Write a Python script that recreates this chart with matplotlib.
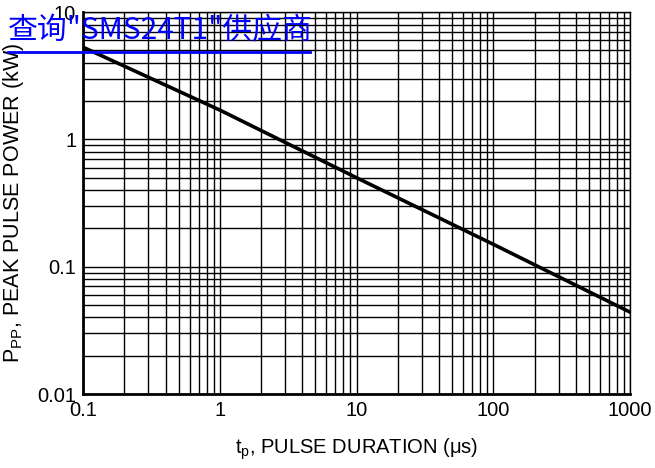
import matplotlib
matplotlib.use("Agg")
from matplotlib import pyplot as plt
from matplotlib.lines import Line2D
from matplotlib.ticker import FixedLocator, FixedFormatter, LogLocator, NullFormatter

plt.rcParams['font.family'] = ['Liberation Sans', 'Noto Sans CJK SC', 'DejaVu Sans']
plt.rcParams['mathtext.default'] = 'regular'

# pulse duration (us) vs peak pulse power (kW)
tp = [0.1, 1, 10, 100, 1000]
ppp = [5.3, 1.7, 0.5, 0.15, 0.044]

xticks = [0.1, 1, 10, 100, 1000]
xlabels = ['0.1', '1', '10', '100', '1000']
yticks = [0.01, 0.1, 1, 10]
ylabels = ['0.01', '0.1', '1', '10']

fig = plt.figure(figsize=(6.55, 4.68), dpi=100)
ax = fig.add_axes([0.127, 0.158, 0.835, 0.816])
ax.set_xscale('log')
ax.set_yscale('log')
ax.set_xlim(0.1, 1000)
ax.set_ylim(0.01, 10)

ax.xaxis.set_major_locator(FixedLocator(xticks))
ax.xaxis.set_major_formatter(FixedFormatter(xlabels))
ax.yaxis.set_major_locator(FixedLocator(yticks))
ax.yaxis.set_major_formatter(FixedFormatter(ylabels))
ax.xaxis.set_minor_locator(LogLocator(base=10, subs=range(2, 10), numticks=20))
ax.yaxis.set_minor_locator(LogLocator(base=10, subs=range(2, 10), numticks=20))
ax.xaxis.set_minor_formatter(NullFormatter())
ax.yaxis.set_minor_formatter(NullFormatter())

ax.grid(True, which='both', color='black', linewidth=1.0)
ax.tick_params(which='both', length=0, labelsize=14.5, pad=5)
for s in ax.spines.values():
    s.set_linewidth(1.0)
ax.spines['left'].set_linewidth(2)
ax.spines['bottom'].set_linewidth(2)

ax.plot(tp, ppp, color='black', linewidth=2.6, zorder=3)

ax.set_xlabel('t$_{p}$, PULSE DURATION (\u03bcs)', fontsize=14.5, labelpad=12)
ax.set_ylabel('P$_{PP}$, PEAK PULSE POWER (kW)', fontsize=15.5, labelpad=8)

fig.text(8 / 655, 1 - 31 / 468, '查询"SMS24T1"供应商', color='#0000ff', fontsize=21.5,
         family=['Noto Sans CJK SC', 'DejaVu Sans'], va='center', ha='left')
fig.add_artist(Line2D([8 / 655, 310 / 655], [1 - 52 / 468, 1 - 52 / 468],
                      color='#0000ff', linewidth=2, transform=fig.transFigure))

plt.savefig('out.png', dpi=100)
plt.close()
